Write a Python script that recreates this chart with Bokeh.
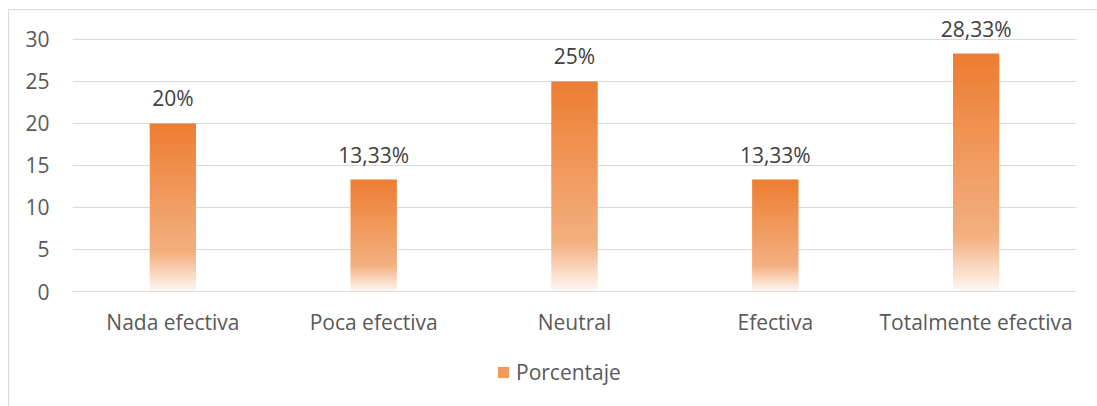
from bokeh.plotting import figure
from bokeh.layouts import column
from bokeh.models import (FactorRange, Range1d, FixedTicker, Legend, LegendItem,
                          ColumnDataSource)
from bokeh.core.properties import value
from bokeh.embed import file_html
from bokeh.resources import INLINE

# ---- data ----
categories = ["Nada efectiva", "Poca efectiva", "Neutral", "Efectiva", "Totalmente efectiva"]
values = [20, 13.33, 25, 13.33, 28.33]
labels = ["20%", "13,33%", "25%", "13,33%", "28,33%"]
y_ticks = [0, 5, 10, 15, 20, 25, 30]
series_name = "Porcentaje"

# ---- style ----
FONT = "Open Sans"
FSIZE = "21px"
AXIS_COLOR = "#595959"
GRID_COLOR = "#d9d9d9"
BAR_COLOR = "#ed7d31"
# gradient stops (fraction of bar height from bottom, rgb)
stops = [(0.0, (254, 248, 244)), (0.23, (243, 176, 128)), (1.0, (237, 125, 49))]


def grad_color(t):
    for (t0, c0), (t1, c1) in zip(stops[:-1], stops[1:]):
        if t <= t1:
            f = (t - t0) / (t1 - t0)
            return "#%02x%02x%02x" % tuple(int(round(a + (b - a) * f)) for a, b in zip(c0, c1))
    return "#%02x%02x%02x" % stops[-1][1]


N = 80
xs, bottoms, tops, colors = [], [], [], []
for cat, v in zip(categories, values):
    for k in range(N):
        t = (k + 0.5) / N
        xs.append(cat)
        bottoms.append(v * k / N)
        tops.append(min(v, v * (k + 1.6) / N))
        colors.append(grad_color(t))
src = ColumnDataSource(dict(x=xs, bottom=bottoms, top=tops, color=colors))

# ---- main chart ----
p = figure(width=1089, height=335, x_range=FactorRange(*categories),
           y_range=Range1d(0, 33.45), output_backend="svg", toolbar_location=None,
           min_border_left=63, min_border_right=22, min_border_top=0, min_border_bottom=54)
p.outline_line_color = None
p.background_fill_color = "white"
p.border_fill_color = "white"

r = p.vbar(x="x", bottom="bottom", top="top", width=0.23, fill_color="color",
           line_color=None, source=src)

p.text(x=categories, y=values, text=labels, text_align="center",
       text_baseline="alphabetic", y_offset=-25, text_font=value(FONT),
       text_font_size=FSIZE, text_color="#404040")

p.xgrid.grid_line_color = None
p.ygrid.grid_line_color = GRID_COLOR
p.ygrid.ticker = FixedTicker(ticks=y_ticks)

p.yaxis.ticker = FixedTicker(ticks=y_ticks)
p.yaxis.axis_line_color = None
p.yaxis.major_tick_line_color = None
p.yaxis.minor_tick_line_color = None
p.yaxis.major_label_standoff = 17
p.yaxis.major_label_text_font = FONT
p.yaxis.major_label_text_font_size = FSIZE
p.yaxis.major_label_text_color = AXIS_COLOR

p.xaxis.axis_line_color = GRID_COLOR
p.xaxis.major_tick_line_color = None
p.xaxis.minor_tick_line_color = None
p.xaxis.major_label_standoff = 10
p.xaxis.major_label_text_font = FONT
p.xaxis.major_label_text_font_size = FSIZE
p.xaxis.major_label_text_color = AXIS_COLOR

# ---- legend strip ----
p2 = figure(width=1089, height=61, x_range=Range1d(0, 1), y_range=Range1d(0, 1),
            x_axis_type=None, y_axis_type=None, output_backend="svg",
            toolbar_location=None, min_border=0)
p2.outline_line_color = None
p2.xgrid.grid_line_color = None
p2.ygrid.grid_line_color = None
key = p2.vbar(x=[-5], top=[0], width=0.1, fill_color=grad_color(0.55), line_color=None)
legend = Legend(items=[LegendItem(label=series_name, renderers=[key])],
                location=(424, 20), orientation="horizontal", border_line_color=None,
                background_fill_alpha=0, label_text_font=FONT, label_text_font_size=FSIZE,
                label_text_color=AXIS_COLOR, glyph_width=14, glyph_height=14,
                margin=0, padding=0, label_standoff=6)
p2.add_layout(legend)

layout = column(p, p2, spacing=0)
layout.margin = (9, 0, 0, 8)
layout.styles = {"border-left": "1px solid #d9d9d9", "border-top": "1px solid #d9d9d9"}

open("out.html", "w").write(file_html(layout, INLINE))
